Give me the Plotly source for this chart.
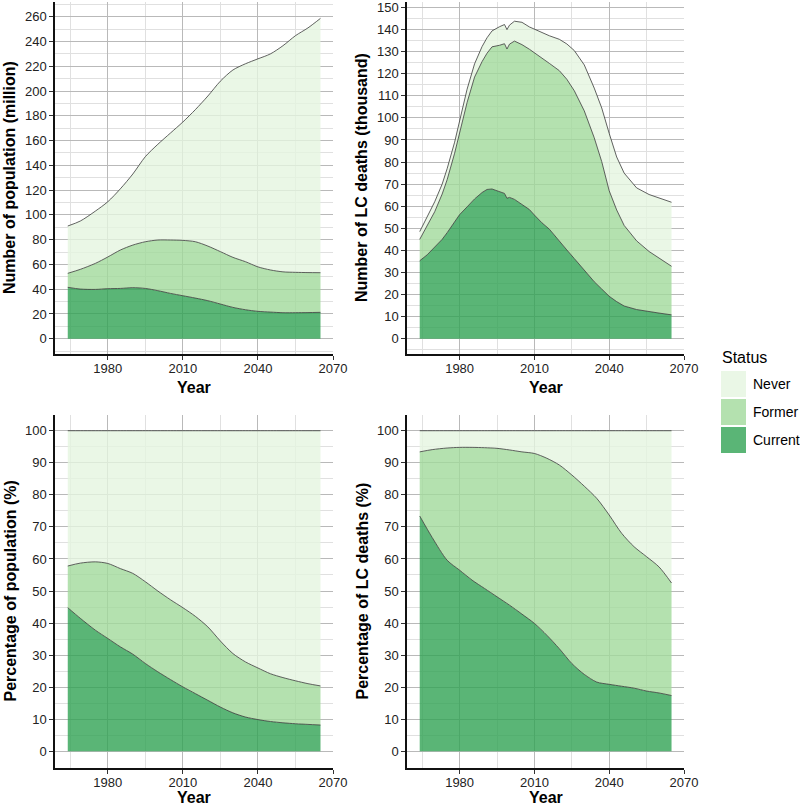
import plotly.graph_objects as go

# ---------------- data ----------------
YEARS = [1964, 1969, 1975, 1980, 1985, 1990, 1995, 2000, 2005, 2010, 2015,
         2020, 2025, 2030, 2035, 2040, 2045, 2050, 2055, 2060, 2065]

# Number of population (million)
POP_CURRENT = [41.5, 40.1, 39.8, 40.4, 40.6, 41.2, 40.6, 38.8, 36.6, 34.7, 32.8,
               30.7, 28.0, 25.3, 23.4, 22.1, 21.5, 21.0, 21.0, 21.1, 21.3]
POP_FORMER = [11.3, 15.9, 21.0, 25.6, 31.0, 34.4, 37.7, 40.9, 43.1, 44.7, 45.5,
              44.1, 42.3, 40.4, 38.8, 35.9, 34.0, 33.0, 32.6, 32.3, 32.0]
POP_NEVER = [38.2, 39.0, 42.2, 44.6, 49.4, 57.4, 68.7, 77.3, 86.3, 95.6, 106.7,
             121.2, 137.7, 151.3, 159.8, 168.0, 174.5, 182.6, 191.1, 197.6, 205.4]

# Number of LC deaths (thousand)
DEATH_YEARS = [1964, 1967, 1970, 1973, 1975, 1978, 1980, 1983, 1986, 1989,
               1991, 1993, 1996, 1998, 1999, 2000, 2002, 2005, 2008, 2010,
               2013, 2016, 2020, 2023, 2026, 2030, 2034, 2037, 2040, 2043,
               2046, 2051, 2056, 2060, 2065]
DEATH_CURRENT = [35.3, 38.0, 41.5, 45.0, 48.0, 53.0, 56.2, 59.7, 63.3, 66.2,
                 67.6, 67.8, 66.8, 65.8, 63.6, 64.0, 63.1, 60.8, 58.5, 56.0,
                 52.5, 49.6, 44.0, 40.2, 36.3, 30.9, 25.8, 22.5, 19.2, 16.8,
                 14.8, 13.2, 12.2, 11.6, 10.8]
DEATH_FORMER = [9.7, 13.0, 16.0, 20.5, 24.0, 31.0, 36.8, 47.3, 55.2, 59.3,
                61.7, 64.4, 66.1, 67.8, 67.6, 69.4, 71.7, 72.4, 72.6, 73.5,
                75.0, 75.1, 77.4, 77.3, 76.0, 72.3, 65.2, 57.7, 47.8, 41.5,
                36.5, 31.1, 27.3, 24.9, 22.0]
DEATH_NEVER = [3.5, 4.0, 4.5, 4.5, 5.0, 5.0, 5.5, 6.0, 6.0, 6.8,
               7.0, 7.2, 8.4, 8.7, 8.8, 8.6, 9.0, 10.1, 10.1, 10.7,
               11.5, 12.5, 14.2, 16.0, 18.2, 20.8, 22.5, 24.3, 26.0, 24.0,
               23.7, 24.0, 25.8, 27.3, 29.0]

# Percentage of population (%)
PCT_POP_CURRENT = [44.8, 41.5, 37.8, 35.2, 32.6, 30.3, 27.4, 24.8, 22.4, 20.1, 18.0,
                   15.9, 13.8, 12.0, 10.7, 9.9, 9.3, 8.9, 8.6, 8.4, 8.2]
PCT_POP_FORMER = [13.0, 17.2, 21.3, 23.4, 24.4, 25.2, 25.5, 25.2, 24.9, 24.7, 24.1,
                  22.9, 20.6, 18.5, 17.2, 16.1, 14.9, 14.1, 13.4, 12.7, 12.2]
PCT_POP_NEVER = [42.2, 41.3, 40.9, 41.4, 43.0, 44.5, 47.1, 50.0, 52.7, 55.2, 57.9,
                 61.2, 65.6, 69.5, 72.1, 74.0, 75.8, 77.0, 78.0, 78.9, 79.6]

# Percentage of LC deaths (%)
PCT_DEATH_CURRENT = [73.4, 66.7, 59.6, 56.5, 53.4, 50.8, 48.2, 45.6, 42.8, 39.9, 36.2,
                     32.0, 27.4, 24.0, 21.6, 20.9, 20.3, 19.7, 18.8, 18.2, 17.4]
PCT_DEATH_FORMER = [20.0, 27.4, 35.0, 38.3, 41.4, 43.9, 46.3, 48.4, 50.6, 53.0, 55.2,
                    57.3, 58.8, 58.7, 57.3, 52.8, 47.7, 44.1, 41.9, 39.3, 35.1]
PCT_DEATH_NEVER = [6.6, 5.9, 5.4, 5.2, 5.2, 5.3, 5.5, 6.0, 6.6, 7.1, 8.6,
                   10.7, 13.8, 17.3, 21.1, 26.3, 32.0, 36.2, 39.3, 42.5, 47.5]

STATUS = ["Never", "Former", "Current"]
X_TICKS = [1980, 2010, 2040, 2070]
X_MINOR = [1965, 1995, 2025, 2055]
Y_TITLES = ["Number of population (million)", "Number of LC deaths (thousand)",
            "Percentage of population (%)", "Percentage of LC deaths (%)"]
X_TITLE = "Year"
LEGEND_TITLE = "Status"

# ---------------- style ----------------
W, H = 800, 806
FILL = {"Never": "rgba(229,245,224,0.8)",
        "Former": "rgba(161,217,155,0.8)",
        "Current": "rgba(49,163,84,0.8)"}
LINE_COLOR = "#3a3a3a"
FONT = "Liberation Sans, Arial, Helvetica, sans-serif"
TICK_COLOR = "#222222"
MAJOR_GRID = "#b9b9b9"
MINOR_GRID = "#e0e0e0"

# panel pixel boxes: (left, right, top, bottom)
BOXES = [(55, 333, 2, 354), (407, 684, 2, 354),
         (55, 333, 415, 768), (407, 684, 415, 768)]
X_TITLE_OFFSET = [33, 33, 29, 29]
Y_RANGES = [[-12.35, 271.9], [-6.93, 152.5], [-5.2, 104.9], [-5.2, 104.9]]
Y_DTICK = [20, 10, 10, 10]
X_RANGE = [1958.9, 2070]

panels = [
    (YEARS, POP_CURRENT, POP_FORMER, POP_NEVER, "spline"),
    (DEATH_YEARS, DEATH_CURRENT, DEATH_FORMER, DEATH_NEVER, "linear"),
    (YEARS, PCT_POP_CURRENT, PCT_POP_FORMER, PCT_POP_NEVER, "spline"),
    (YEARS, PCT_DEATH_CURRENT, PCT_DEATH_FORMER, PCT_DEATH_NEVER, "spline"),
]

fig = go.Figure()
for i, (yrs, cur, frm, nev, shape) in enumerate(panels):
    sfx = "" if i == 0 else str(i + 1)
    for name, vals in (("Current", cur), ("Former", frm), ("Never", nev)):
        fig.add_trace(go.Scatter(
            x=yrs, y=vals, name=name, stackgroup="g%d" % i,
            mode="lines", fillcolor=FILL[name],
            line=dict(color=LINE_COLOR, width=0.8, shape=shape, smoothing=0.8),
            xaxis="x" + sfx, yaxis="y" + sfx, showlegend=False,
        ))

layout = dict(
    width=W, height=H, margin=dict(l=0, r=0, t=0, b=0, pad=0),
    paper_bgcolor="white", plot_bgcolor="white",
    font=dict(family=FONT, size=13, color=TICK_COLOR),
    showlegend=False,
)
annotations = []
shapes = []
for i, (l, r, t, b) in enumerate(BOXES):
    sfx = "" if i == 0 else str(i + 1)
    common = dict(
        showgrid=True, gridcolor=MAJOR_GRID, gridwidth=1,
        showline=True, linecolor="#111111", linewidth=1.5,
        ticks="outside", ticklen=4, tickcolor="#333333", tickwidth=1,
        zeroline=False, automargin=False, ticklabeloverflow="allow",
        tickfont=dict(size=13, color=TICK_COLOR, family=FONT),
    )
    layout["xaxis" + sfx] = dict(
        domain=[l / W, r / W], anchor="y" + sfx, range=X_RANGE,
        tickmode="array", tickvals=X_TICKS, ticktext=[str(v) for v in X_TICKS],
        minor=dict(tickmode="array", tickvals=X_MINOR, showgrid=True,
                   gridcolor=MINOR_GRID, gridwidth=1, ticks=""),
        ticklabelstandoff=-2,
        **common,
    )
    layout["yaxis" + sfx] = dict(
        domain=[1 - b / H, 1 - t / H], anchor="x" + sfx, range=Y_RANGES[i],
        tick0=0, dtick=Y_DTICK[i],
        minor=dict(dtick=Y_DTICK[i] / 2, tick0=0, showgrid=True,
                   gridcolor=MINOR_GRID, gridwidth=1, ticks=""),
        **common,
    )
    # axis titles
    annotations.append(dict(
        text="<b>%s</b>" % X_TITLE, xref="paper", yref="paper",
        x=(l + r) / 2 / W, y=1 - (b + X_TITLE_OFFSET[i]) / H,
        xanchor="center", yanchor="middle",
        showarrow=False, font=dict(size=16, color="#000000", family=FONT)))
    annotations.append(dict(
        text="<b>%s</b>" % Y_TITLES[i], xref="paper", yref="paper",
        x=(l - 45) / W, y=1 - (t + b) / 2 / H, xanchor="center", yanchor="middle",
        textangle=-90, showarrow=False,
        font=dict(size=16, color="#000000", family=FONT)))

# legend (drawn manually to get the large square keys)
annotations.append(dict(
    text=LEGEND_TITLE, xref="paper", yref="paper", x=720 / W, y=1 - 357 / H,
    xanchor="left", yanchor="middle", showarrow=False,
    font=dict(size=16, color="#000000", family=FONT)))
for k, name in enumerate(STATUS):
    top = 371 + k * 28
    shapes.append(dict(type="rect", xref="paper", yref="paper",
                       x0=721 / W, x1=746 / W, y0=1 - (top + 26) / H, y1=1 - top / H,
                       fillcolor=FILL[name], line=dict(width=0), layer="above"))
    annotations.append(dict(
        text=name, xref="paper", yref="paper", x=751 / W, y=1 - (top + 13) / H,
        xanchor="left", yanchor="middle", showarrow=False,
        font=dict(size=14, color="#000000", family=FONT)))

layout["annotations"] = annotations
layout["shapes"] = shapes
fig.update_layout(**layout)

# the page is exactly the figure size: drop the default body margin
fig.write_html(
    "out.html",
    config={"displayModeBar": False},
    post_script="document.body.style.margin='0';document.body.style.overflow='hidden';",
)
